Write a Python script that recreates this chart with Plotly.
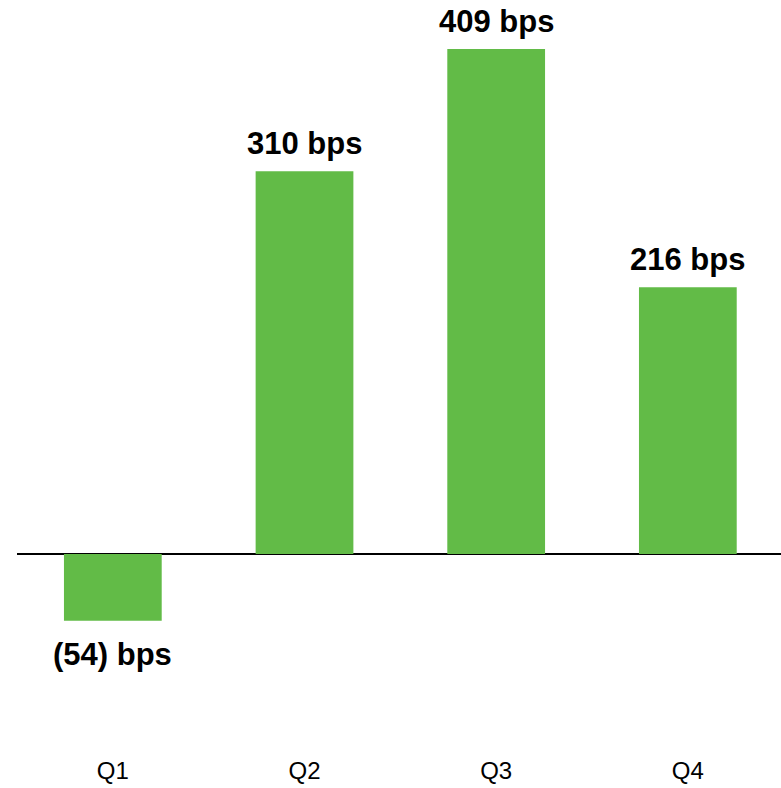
import plotly.graph_objects as go

categories = ["Q1", "Q2", "Q3", "Q4"]
values = [-54, 310, 409, 216]
labels = ["(54) bps", "310 bps", "409 bps", "216 bps"]

W, H = 781, 788
ml, mr, mt, mb = 17, 0, 0, 50
plot_h = H - mt - mb
zero_px = 554
px_per_unit = (554 - 49) / 409.0
ymax = (zero_px - mt) / px_per_unit
ymin = -(mt + plot_h - zero_px) / px_per_unit

fig = go.Figure(go.Bar(
    x=categories, y=values,
    marker=dict(color="#62BB47", line=dict(width=0)),
))
for c, v, t in zip(categories, values, labels):
    fig.add_annotation(
        x=c, y=v, text=t, showarrow=False,
        yanchor="bottom" if v >= 0 else "top",
        yshift=8 if v >= 0 else -14,
        font=dict(family="Liberation Sans, Arial, sans-serif", size=31, color="#000000", weight="bold"),
    )
fig.update_layout(
    width=W, height=H,
    margin=dict(l=ml, r=mr, t=mt, b=mb),
    paper_bgcolor="white", plot_bgcolor="white",
    bargap=0.49, showlegend=False,
    font=dict(family="Liberation Sans, Arial, sans-serif", color="#000000"),
)
fig.update_xaxes(range=[-0.5, 3.486], showgrid=False, showline=False, ticks="",
                 tickfont=dict(size=24, color="#000000"), ticklabelstandoff=16)
fig.update_yaxes(range=[ymin, ymax], showgrid=False, showticklabels=False, zeroline=True,
                 zerolinecolor="#000000", zerolinewidth=1.5)
fig.write_html("out.html")
